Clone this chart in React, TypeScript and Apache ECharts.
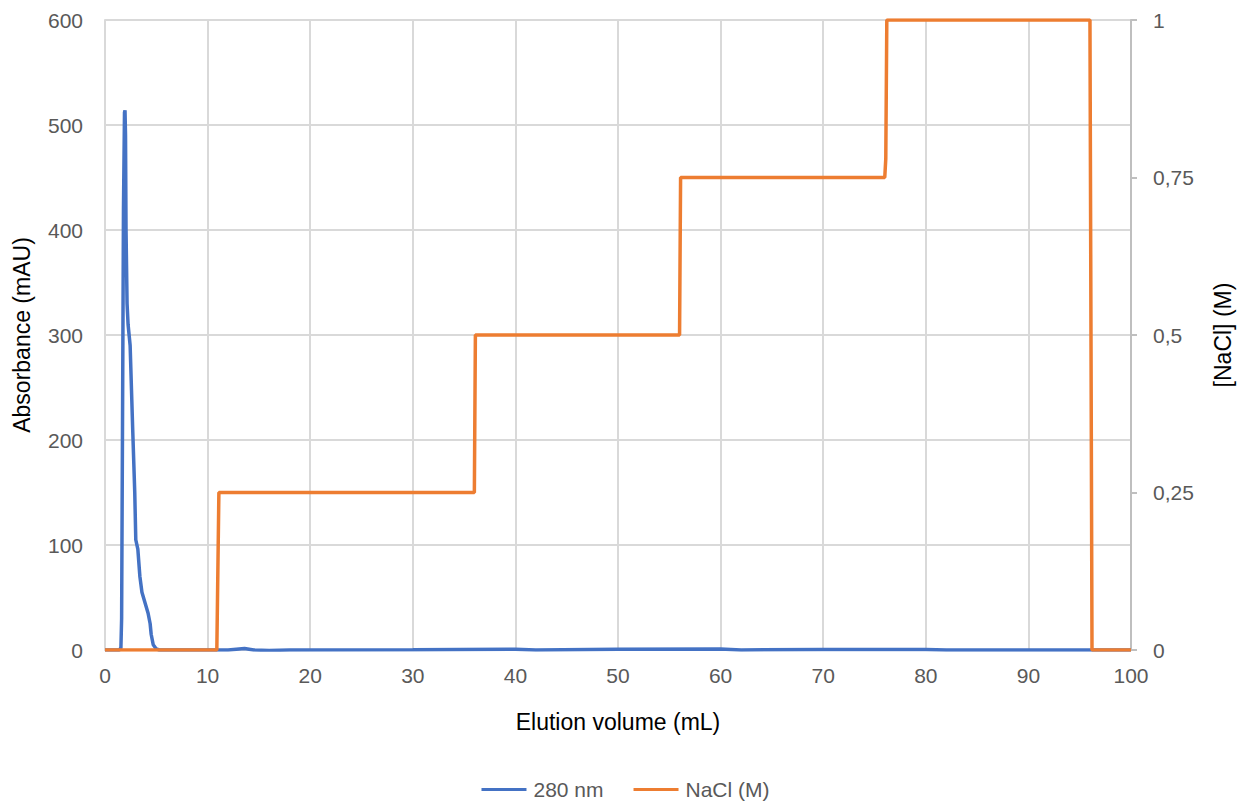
import React, { useEffect, useRef } from "react";
import * as echarts from "echarts";

const blueName = "280 nm";
const naclName = "NaCl (M)";

// Absorbance at 280 nm (mAU) vs elution volume (mL)
const blueX = [0, 1.4, 1.55, 1.62, 1.7, 1.8, 1.9, 1.95, 2.0, 2.05, 2.15, 2.25, 2.45, 2.7, 2.9, 3.0, 3.2, 3.4, 3.6, 3.9, 4.2, 4.4, 4.5, 4.7, 5.0, 5.3, 12, 13.6, 14.5, 16, 18, 30, 40, 42, 50, 60, 62, 70, 80, 82, 100];
const blueY = [0, 0, 2, 30, 200, 420, 512, 514, 490, 400, 330, 310, 290, 210, 150, 105, 96, 70, 55, 45, 35, 25, 15, 5, 1, 0, 0, 1.5, 0, -0.5, 0, 0.3, 0.8, 0, 0.8, 1, 0, 0.5, 0.5, 0, 0];

// NaCl concentration (M) vs elution volume (mL)
const naclX = [0, 10.9, 11.1, 36, 36.1, 56, 56.1, 76, 76.1, 76.2, 96, 96.2, 100];
const naclY = [0, 0, 0.25, 0.25, 0.5, 0.5, 0.75, 0.75, 0.78, 1, 1, 0, 0];

const xTicks = { min: 0, max: 100, interval: 10 };
const leftTicks = { min: 0, max: 600, interval: 100 };
const rightTicks = { min: 0, max: 1, interval: 0.25 };

const FONT = "'Liberation Sans', Arial, sans-serif";

export default function App() {
  const ref = useRef<HTMLDivElement>(null);
  useEffect(() => {
    if (!ref.current) return;
    const chart = echarts.init(ref.current, undefined, { renderer: "svg" });
    const blueData = blueX.map((x, i) => [x, blueY[i]]);
    const naclData = naclX.map((x, i) => [x, naclY[i]]);
    chart.setOption({
      animation: false,
      backgroundColor: "#ffffff",
      textStyle: { fontFamily: FONT },
      grid: { left: 105, right: 120, top: 20, bottom: 157, containLabel: false },
      legend: {
        bottom: 2,
        left: "center",
        icon: "rect",
        itemWidth: 45,
        itemHeight: 3,
        itemGap: 30,
        textStyle: { fontSize: 21, color: "#595959", fontFamily: FONT, padding: [0, 0, 0, 2] },
        data: [blueName, naclName],
      },
      xAxis: {
        type: "value",
        ...xTicks,
        name: "Elution volume (mL)",
        nameLocation: "middle",
        nameGap: 60,
        nameTextStyle: { fontSize: 23, color: "#000000", fontFamily: FONT },
        axisLine: { show: true, lineStyle: { color: "#d9d9d9", width: 2 } },
        axisTick: { show: false },
        axisLabel: { fontSize: 21, color: "#595959", margin: 15, fontFamily: FONT },
        splitLine: { show: true, lineStyle: { color: "#d9d9d9", width: 2 } },
      },
      yAxis: [
        {
          type: "value",
          position: "left",
          ...leftTicks,
          name: "Absorbance (mAU)",
          nameLocation: "middle",
          nameRotate: 90,
          nameGap: 72,
          nameTextStyle: { fontSize: 23, color: "#000000", fontFamily: FONT },
          axisLine: { show: true, lineStyle: { color: "#d9d9d9", width: 2 } },
          axisTick: { show: false },
          axisLabel: { fontSize: 21, color: "#595959", margin: 22, fontFamily: FONT },
          splitLine: { show: true, lineStyle: { color: "#d9d9d9", width: 2 } },
        },
        {
          type: "value",
          position: "right",
          ...rightTicks,
          name: "[NaCl] (M)",
          nameLocation: "middle",
          nameRotate: 90,
          nameGap: 80,
          nameTextStyle: { fontSize: 23, color: "#000000", fontFamily: FONT },
          axisLine: { show: true, lineStyle: { color: "#bfbfbf", width: 2 } },
          axisTick: { show: true, length: 6, lineStyle: { color: "#bfbfbf", width: 2 } },
          axisLabel: {
            fontSize: 21,
            color: "#595959",
            margin: 22,
            fontFamily: FONT,
            formatter: (v: number) => String(v).replace(".", ","),
          },
          splitLine: { show: false },
        },
      ],
      series: [
        {
          name: blueName,
          type: "line",
          yAxisIndex: 0,
          data: blueData,
          symbol: "none",
          smooth: false,
          lineStyle: { color: "#4472C4", width: 3.5 },
          itemStyle: { color: "#4472C4" },
          z: 2,
        },
        {
          name: naclName,
          type: "line",
          yAxisIndex: 1,
          data: naclData,
          symbol: "none",
          lineStyle: { color: "#ED7D31", width: 3.5 },
          itemStyle: { color: "#ED7D31" },
          z: 3,
        },
      ],
    });
    return () => chart.dispose();
  }, []);
  return (
    <div
      ref={ref}
      style={{ position: "fixed", left: 0, top: 0, width: 1251, height: 807, background: "#fff" }}
    />
  );
}
